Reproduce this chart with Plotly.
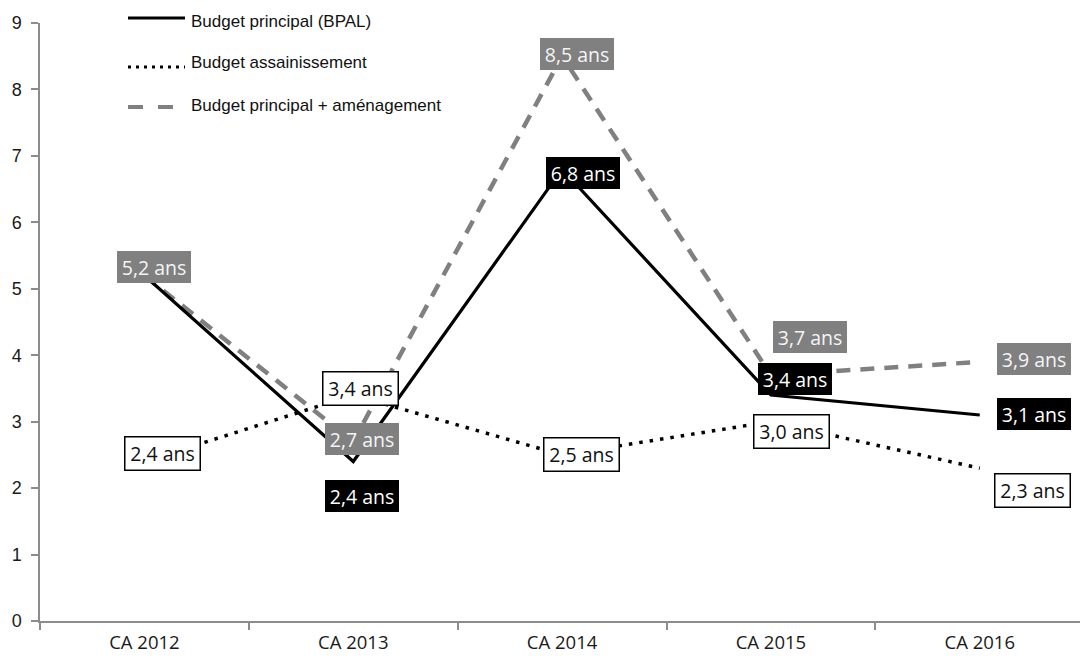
import plotly.graph_objects as go

# ---- data -------------------------------------------------------------
categories = ["CA 2012", "CA 2013", "CA 2014", "CA 2015", "CA 2016"]
bpal = [5.2, 2.4, 6.8, 3.4, 3.1]
assainissement = [2.4, 3.4, 2.5, 3.0, 2.3]
principal_amenagement = [5.2, 2.7, 8.5, 3.7, 3.9]
series_names = [
    "Budget principal (BPAL)",
    "Budget assainissement",
    "Budget principal + aménagement",
]
y_ticks = [0, 1, 2, 3, 4, 5, 6, 7, 8, 9]

# which points carry a value label (BPAL 2012 shares the 5,2 label)
bpal_labelled = [False, True, True, True, True]
assain_labelled = [True, True, True, True, True]
amenag_labelled = [True, True, True, True, True]

# label offsets from their point, in pixels (dx right, dy down)
bpal_offsets = [(0, 0), (9, 34), (21, 4), (24, -16), (54, -1)]
assain_offsets = [(18, -8), (7, -7), (19, 0), (21, 10), (53, 22)]
amenag_offsets = [(10, -8), (9, -3), (15, -2), (39, -38), (54, -3)]

# ---- styles -----------------------------------------------------------
GREY = "#808080"
AXIS = "#8c8c8c"
LABEL_FONT = "Open Sans"


def fmt(v):
    return f"{v:.1f}".replace(".", ",") + " ans"


fig = go.Figure()

fig.add_trace(go.Scatter(
    x=categories, y=principal_amenagement, mode="lines",
    name=series_names[2],
    line=dict(color=GREY, width=4.5, dash="14px,10px"),
    showlegend=False, hoverinfo="skip",
))
fig.add_trace(go.Scatter(
    x=categories, y=assainissement, mode="lines",
    name=series_names[1],
    line=dict(color="#000000", width=3.5, dash="3.5px,7px"),
    showlegend=False, hoverinfo="skip",
))
fig.add_trace(go.Scatter(
    x=categories, y=bpal, mode="lines",
    name=series_names[0],
    line=dict(color="#000000", width=3.2),
    showlegend=False, hoverinfo="skip",
))


def add_labels(values, flags, offsets, bg, fg, border):
    for cat, v, show, (dx, dy) in zip(categories, values, flags, offsets):
        if not show:
            continue
        fig.add_annotation(
            x=cat, y=v, xref="x", yref="y",
            text=fmt(v), showarrow=False,
            xshift=dx, yshift=-dy,
            xanchor="center", yanchor="middle",
            font=dict(family=LABEL_FONT, size=19.5, color=fg),
            bgcolor=bg, bordercolor=border,
            borderwidth=1.5 if border != bg else 0,
            borderpad=0, width=74, height=32,
        )


add_labels(assainissement, assain_labelled, assain_offsets,
           "#ffffff", "#111111", "#000000")
add_labels(principal_amenagement, amenag_labelled, amenag_offsets,
           GREY, "#f4f4f4", GREY)
add_labels(bpal, bpal_labelled, bpal_offsets,
           "#000000", "#ffffff", "#000000")

# ---- legend drawn at the top left ------------------------------------
PLOT_L, PLOT_R, PLOT_T, PLOT_B = 40, 1080, 23, 621


def px_x(px):
    return (px - PLOT_L) / (PLOT_R - PLOT_L)


def px_y(py):
    return (PLOT_B - py) / (PLOT_B - PLOT_T)


legend_rows = [
    (series_names[0], dict(color="#000000", width=3), 18, 22),
    (series_names[1], dict(color="#000000", width=3, dash="3px,5px"), 67, 63),
    (series_names[2], dict(color=GREY, width=4, dash="15px,15px"), 107, 105),
]
for name, line, ly, ty in legend_rows:
    fig.add_shape(
        type="line", xref="paper", yref="paper",
        x0=px_x(128), x1=px_x(185), y0=px_y(ly), y1=px_y(ly),
        line=line,
    )
    fig.add_annotation(
        x=px_x(189), y=px_y(ty), xref="paper", yref="paper",
        text=name, showarrow=False, xanchor="left", yanchor="middle",
        font=dict(family="Liberation Sans Narrow, Arial Narrow, Liberation Sans",
                  size=17, color="#111111"),
    )

fig.update_layout(
    width=1080, height=659,
    margin=dict(l=PLOT_L, r=1080 - PLOT_R, t=PLOT_T, b=659 - PLOT_B),
    paper_bgcolor="#ffffff", plot_bgcolor="#ffffff",
    showlegend=False,
)
fig.update_xaxes(
    type="category", range=[-0.5, 4.48],
    showline=True, linecolor=AXIS, linewidth=1.5,
    ticks="outside", tickson="boundaries", ticklen=7, tickcolor=AXIS,
    tickwidth=1.5, showgrid=False, zeroline=False,
    ticklabelstandoff=4,
    tickfont=dict(family="Open Sans", size=18.5, color="#1a1a1a"),
)
fig.update_yaxes(
    range=[0, 9], tickvals=y_ticks, ticktext=[str(t) for t in y_ticks],
    showline=True, linecolor=AXIS, linewidth=1.5,
    ticks="outside", ticklen=7, tickcolor=AXIS, tickwidth=1.5,
    showgrid=False, zeroline=False, ticklabelstandoff=6,
    tickfont=dict(family="Liberation Sans", size=18, color="#1a1a1a"),
)

fig.write_html("out.html")
